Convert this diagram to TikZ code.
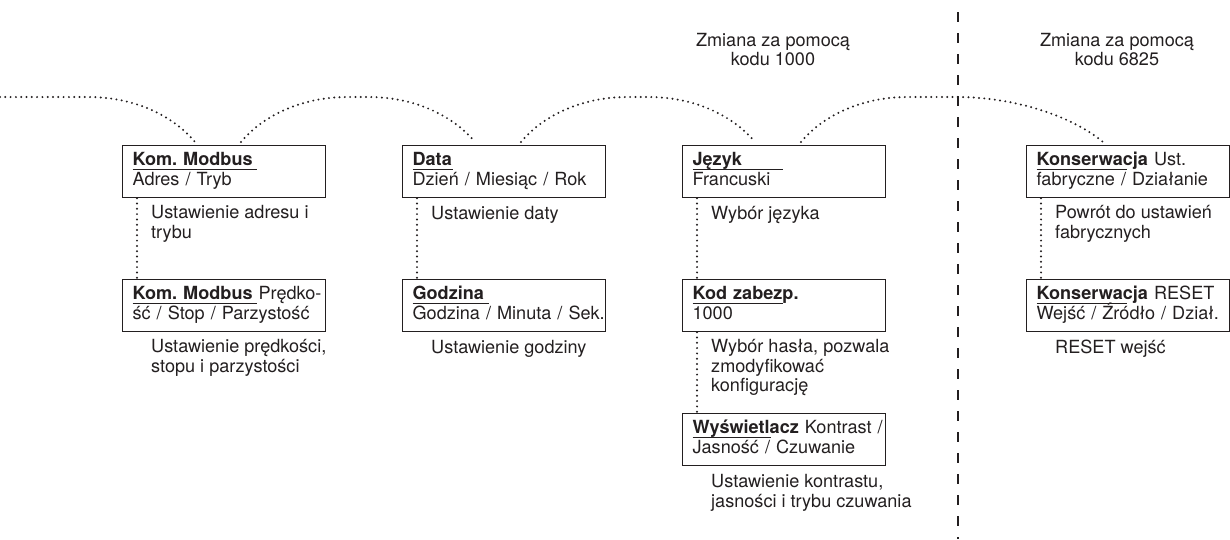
\documentclass[tikz,border=0pt]{standalone}
\usepackage{fontspec}
\setmainfont{TeX Gyre Heros}
\usetikzlibrary{positioning, calc}
\definecolor{cInk}{RGB}{35,31,32}
\tikzset{
	menubox/.style={rectangle, draw=cInk, line width=1.2pt, anchor=north west, minimum width=203pt, minimum height=52pt, text width=200pt, inner xsep=1.5pt, inner ysep=0pt, align=left, execute at begin node={\leftskip=8.5pt\strut}, execute at end node=\strut},
	note/.style   ={anchor=north west, align=left, inner sep=0pt, execute at begin node=\strut},
	head/.style   ={anchor=north, align=center, inner sep=0pt, execute at begin node=\strut},
	dots/.style   ={cInk, line width=2.2pt, line cap=round, dash pattern=on 0pt off 5.3pt},
	divider/.style={cInk, line width=2.7pt, dash pattern=on 10pt off 11pt},
}
% text size of the whole figure
\newcommand{\figfont}{\fontsize{18.1}{19.6}\selectfont\frenchspacing\lineskiplimit=-20pt\relax}
% underlined bold heading, underline length in pt
\newcommand{\hd}[2]{\rlap{\rule[-4.5pt]{#1pt}{0.9pt}}\textbf{#2}}
% two unbroken lines of a menu box
\newcommand{\boxlines}[2]{\mbox{#1}\\\mbox{#2}}

\begin{document}
\begin{tikzpicture}[x=1pt, y=-1pt, font=\figfont, text=cInk]
	\useasboundingbox (0,0) rectangle (1230,539);
	% headers
	\node[head] (hdA) at (773,33) {Zmiana za pomocą\\kodu 1000};
	\node[head] (hdB) at (1117,33) {Zmiana za pomocą\\kodu 6825};
	% menu boxes
	\node[menubox] (modA)  at (122,145)  {\boxlines{\hd{124}{Kom. Modbus}}{Adres / Tryb}};
	\node[menubox] (modB)  at (122,279)  {\boxlines{\hd{124}{Kom. Modbus} Prędko-}{ść / Stop / Parzystość}};
	\node[menubox] (date)  at (402,145)  {\boxlines{\hd{40}{Data}}{Dzień / Miesiąc / Rok}};
	\node[menubox] (hour)  at (402,279)  {\boxlines{\hd{76}{Godzina}}{Godzina / Minuta / Sek.}};
	\node[menubox] (lang)  at (682,145)  {\boxlines{\hd{90}{Język}}{Francuski}};
	\node[menubox] (code)  at (682,279)  {\boxlines{\hd{90}{Kod zabezp.}}{1000}};
	\node[menubox] (disp)  at (682,413)  {\boxlines{\hd{78}{Wyświetlacz} Kontrast /}{Jasność / Czuwanie}};
	\node[menubox] (serv)  at (1026,145) {\boxlines{\hd{90}{Konserwacja} Ust.}{fabryczne / Działanie}};
	\node[menubox] (reset) at (1026,279) {\boxlines{\hd{90}{Konserwacja} RESET}{Wejść / Źródło / Dział.}};
	% notes under the boxes
	\node[note] (nModA)  at ([xshift=29pt,yshift=-7pt]modA.south west)  {Ustawienie adresu i\\trybu};
	\node[note] (nModB)  at ([xshift=29pt,yshift=-7pt]modB.south west)  {Ustawienie prędkości,\\stopu i parzystości};
	\node[note] (nDate)  at ([xshift=29pt,yshift=-7pt]date.south west)  {Ustawienie daty};
	\node[note] (nHour)  at ([xshift=29pt,yshift=-7pt]hour.south west)  {Ustawienie godziny};
	\node[note] (nLang)  at ([xshift=29pt,yshift=-7pt]lang.south west)  {Wybór języka};
	\node[note] (nCode)  at ([xshift=29pt,yshift=-7pt]code.south west)  {Wybór hasła, pozwala\\zmodyfikować\\konfigurację};
	\node[note] (nDisp)  at ([xshift=29pt,yshift=-8pt]disp.south west)  {Ustawienie kontrastu,\\jasności i trybu czuwania};
	\node[note] (nServ)  at ([xshift=29pt,yshift=-7pt]serv.south west)  {Powrót do ustawień\\fabrycznych};
	\node[note] (nReset) at ([xshift=29pt,yshift=-7pt]reset.south west) {RESET wejść};
	% vertical links
	\foreach \a/\b in {modA/modB, date/hour, lang/code, code/disp, serv/reset}
		\draw[dots] ([xshift=15pt]\a.south west) -- ([xshift=15pt]\b.north west);
	% access points on top of the first boxes
	\coordinate (iA) at ([xshift=73pt,yshift=3pt]modA.north west);
	\coordinate (oA) at ([xshift=119pt,yshift=3pt]modA.north west);
	\coordinate (iB) at ([xshift=73pt,yshift=3pt]date.north west);
	\coordinate (oB) at ([xshift=119pt,yshift=3pt]date.north west);
	\coordinate (iC) at ([xshift=73pt,yshift=3pt]lang.north west);
	\coordinate (oC) at ([xshift=119pt,yshift=3pt]lang.north west);
	\coordinate (iD) at ([xshift=77pt,yshift=3pt]serv.north west);
	\coordinate (start) at (0,97);
	\draw[dots] (start) -- ($(iA)+(-107,-45)$) .. controls +(50,0) and +(-20,-24) .. (iA);
	\draw[dots] (oA) .. controls +(20,-24) and +(-50,0) .. ($(oA)+(107,-45)$) -- ($(iB)+(-107,-45)$) .. controls +(50,0) and +(-20,-24) .. (iB);
	\draw[dots] (oB) .. controls +(20,-24) and +(-50,0) .. ($(oB)+(107,-45)$) -- ($(iC)+(-107,-45)$) .. controls +(50,0) and +(-20,-24) .. (iC);
	\draw[dots] (oC) .. controls +(20,-24) and +(-50,0) .. ($(oC)+(107,-45)$) -- ($(iD)+(-145,-45)$) .. controls +(50,0) and +(-35,-29) .. (iD);
	% divider
	\coordinate (divTop) at (958,12);
	\coordinate (divBot) at (958,539);
	\draw[divider] (divTop) -- (divBot);
\end{tikzpicture}
\end{document}
